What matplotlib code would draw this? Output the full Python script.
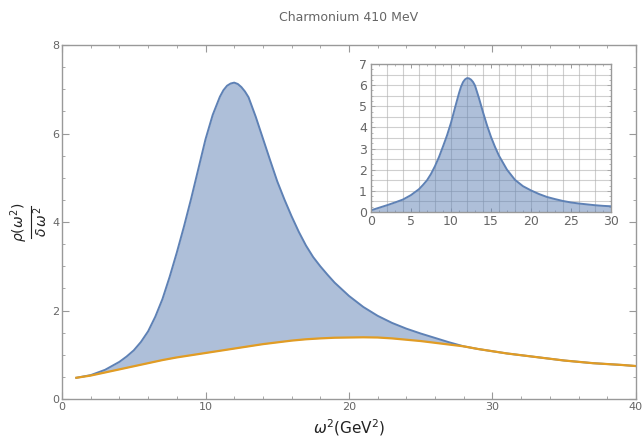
import numpy as np
import matplotlib
matplotlib.use("Agg")
import matplotlib.pyplot as plt
from matplotlib.lines import Line2D
from matplotlib.ticker import MultipleLocator

# main panel: upper (blue) and lower (orange) bounds
upper_x = [1, 2, 3, 4, 4.5, 5, 5.5, 6, 6.5, 7, 7.5, 8, 8.5, 9, 9.5, 10, 10.5, 11, 11.25,
           11.5, 11.75, 12, 12.25, 12.5, 12.75, 13, 13.5, 14, 14.5, 15, 15.5, 16,
           16.5, 17, 17.5, 18, 18.5, 19, 20, 21, 22, 23, 24, 25, 26, 27, 28, 29, 30,
           31, 32, 33, 34, 35, 36, 37, 38, 39, 40]
upper_y = [0.48, 0.54, 0.66, 0.84, 0.96, 1.10, 1.29, 1.53, 1.86, 2.26, 2.76, 3.31,
           3.90, 4.53, 5.20, 5.87, 6.42, 6.83, 6.98, 7.08, 7.13, 7.15, 7.12, 7.05,
           6.95, 6.82, 6.38, 5.89, 5.40, 4.92, 4.51, 4.13, 3.78, 3.47, 3.21, 3.00,
           2.81, 2.63, 2.33, 2.08, 1.88, 1.72, 1.59, 1.48, 1.38, 1.28, 1.19, 1.13,
           1.08, 1.03, 0.99, 0.95, 0.91, 0.87, 0.84, 0.81, 0.79, 0.77, 0.745]

lower_x = list(range(1, 41))
lower_y = [0.48, 0.53, 0.60, 0.67, 0.74, 0.81, 0.88, 0.94, 0.99, 1.04, 1.09, 1.14,
           1.19, 1.24, 1.28, 1.32, 1.35, 1.37, 1.385, 1.39, 1.395, 1.39, 1.37, 1.34,
           1.31, 1.27, 1.23, 1.19, 1.13, 1.08, 1.03, 0.99, 0.95, 0.91, 0.87, 0.84,
           0.81, 0.79, 0.77, 0.745]

# inset spectral function
inset_x = [0, 1, 2, 3, 4, 5, 6, 6.5, 7, 7.5, 8, 8.5, 9, 9.5, 10, 10.5, 11, 11.25,
           11.5, 11.75, 12, 12.25, 12.5, 12.75, 13, 13.5, 14, 14.5, 15, 15.5, 16,
           17, 18, 19, 20, 21, 22, 23, 24, 25, 26, 27, 28, 29, 30]
inset_y = [0.08, 0.20, 0.32, 0.45, 0.59, 0.80, 1.08, 1.28, 1.50, 1.80, 2.17, 2.60,
           3.10, 3.62, 4.22, 4.93, 5.62, 5.92, 6.14, 6.27, 6.33, 6.32, 6.26, 6.15,
           5.98, 5.38, 4.72, 4.10, 3.55, 3.08, 2.66, 2.00, 1.52, 1.22, 1.02, 0.85,
           0.71, 0.61, 0.52, 0.45, 0.40, 0.36, 0.32, 0.29, 0.27]

blue = '#5E81B5'
orange = '#E19C24'
frame = '#999999'
txt = '#666666'

W, H = 642, 441
fig = plt.figure(figsize=(6.42, 4.41), dpi=100)
ax = fig.add_axes([0.0966, 0.0952, 0.894, 0.8027])

lo_on_up = np.interp(upper_x, lower_x, lower_y)
ax.fill_between(upper_x, lo_on_up, upper_y, color=blue, alpha=0.5, lw=0)
ax.plot(upper_x, upper_y, color=blue, lw=1.4, solid_joinstyle='round')
ax.plot(lower_x, lower_y, color=orange, lw=1.6, solid_joinstyle='round')

ax.set_xlim(0, 40)
ax.set_ylim(0, 8)
ax.xaxis.set_major_locator(MultipleLocator(10))
ax.xaxis.set_minor_locator(MultipleLocator(2))
ax.yaxis.set_major_locator(MultipleLocator(2))
ax.yaxis.set_minor_locator(MultipleLocator(0.5))
ax.tick_params(which='both', direction='in', top=True, right=True,
               color=frame, labelcolor=txt, labelsize=8, pad=2)
ax.tick_params(which='major', length=5, width=0.8)
ax.tick_params(which='minor', length=2.5, width=0.6)
for s in ax.spines.values():
    s.set_color(frame)
    s.set_linewidth(1.0)

ax.set_title('Charmonium 410 MeV', color=txt, fontsize=9, pad=17)
ax.set_xlabel(r'$\omega^2$(GeV$^2$)', fontsize=11, color='#222222', labelpad=4)

# y label as a stacked fraction (rotated)
yc = 1 - 222 / H
fig.text(19 / W, yc, r'$\rho\left(\omega^2\right)$', rotation=90,
         ha='center', va='center', fontsize=10, color='#222222')
fig.text(41 / W, yc, r'$\delta\,\omega^2$', rotation=90,
         ha='center', va='center', fontsize=10, color='#222222')
fig.add_artist(Line2D([31 / W, 31 / W], [1 - 206 / H, 1 - 238 / H],
                      color='#222222', lw=0.8))

# inset
axi = fig.add_axes([0.5779, 0.5193, 0.3738, 0.3356])
axi.fill_between(inset_x, 0, inset_y, color=blue, alpha=0.5, lw=0, zorder=3)
axi.plot(inset_x, inset_y, color=blue, lw=1.4, zorder=4, solid_joinstyle='round')
axi.set_xlim(0, 30)
axi.set_ylim(0, 7)
axi.xaxis.set_major_locator(MultipleLocator(5))
axi.xaxis.set_minor_locator(MultipleLocator(1))
axi.yaxis.set_major_locator(MultipleLocator(1))
axi.yaxis.set_minor_locator(MultipleLocator(0.25))
for gx in np.arange(2, 30, 2):
    axi.axvline(gx, color='#b0b0b0', lw=0.8, alpha=0.6, zorder=2)
for gy in np.arange(0.5, 7, 0.5):
    axi.axhline(gy, color='#b0b0b0', lw=0.8, alpha=0.6, zorder=2)
axi.tick_params(which='both', direction='in', top=True, right=True,
                color=frame, labelcolor=txt, labelsize=9)
axi.tick_params(axis='x', pad=2)
axi.tick_params(axis='y', pad=3)
axi.tick_params(which='major', length=3, width=0.7)
axi.tick_params(which='minor', length=1.5, width=0.5)
for s in axi.spines.values():
    s.set_color(frame)
    s.set_linewidth(1.0)
    s.set_zorder(5)

fig.savefig('out.png', dpi=100)
